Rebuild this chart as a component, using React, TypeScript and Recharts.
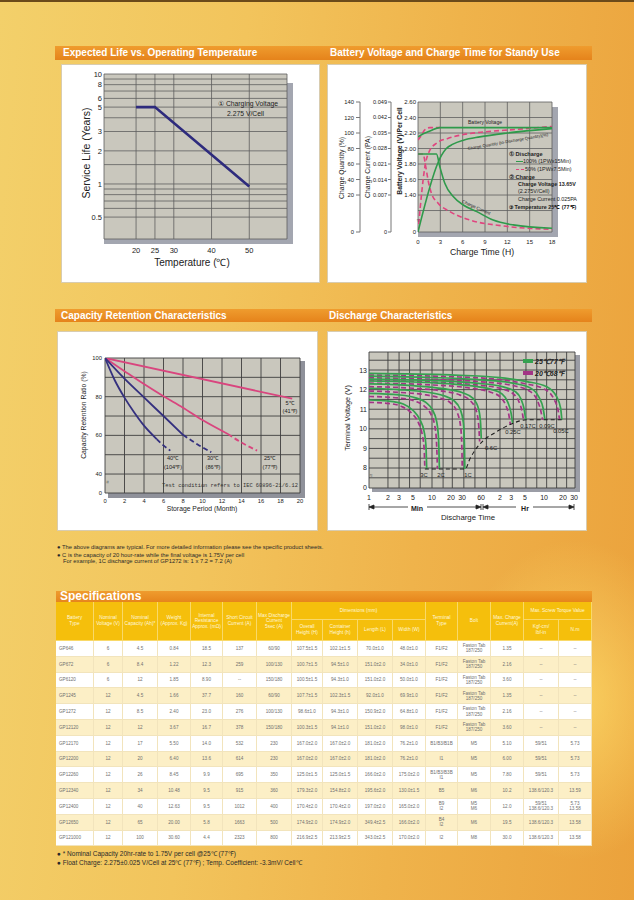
import React from 'react';
import { LineChart, Line, XAxis, YAxis, CartesianGrid } from 'recharts';

const FONT = '"Liberation Sans", Arial, Helvetica, sans-serif';

/* ---------- Expected Life vs. Operating Temperature ---------- */
const lifeTemperature = [20, 25, 50];
const lifeYears = [5, 5, 0.95];
const lifeXTicks = [20, 25, 30, 40, 50];
const lifeYTicks = [0.5, 1, 2, 3, 5, 6, 8, 10];
const lifeGridYears = [0.316, 0.5, 0.6, 0.7, 0.8, 0.9, 1, 1.5, 2, 3, 4, 5, 6, 7, 8, 9, 10];
const lifeGridTemps = [11.5, 20, 25, 30, 40, 50, 60];

/* ---------- Battery Voltage and Charge Time ---------- */
// axis break: the lowest tick of each axis stands for "0"
const chargeHourTicks = [0, 3, 6, 9, 12, 15, 18];
const voltageAxisTicks = [0.923, 1.4, 1.6, 1.8, 2.0, 2.2, 2.4, 2.6];
const currentAxisTicks = [-0.0097, 0.007, 0.014, 0.021, 0.028, 0.035, 0.042, 0.049];
const quantityAxisTicks = [-27.7, 20, 40, 60, 80, 100, 120, 140];
const voltageGrid = [0.923, 1.2, 1.4, 1.6, 1.8, 2.0, 2.2, 2.4, 2.6];
const voltageFull = [[0, 2.15], [0.7, 2.19], [1.7, 2.23], [2.9, 2.27], [18, 2.27]];
const voltageHalf = [[0, 2.11], [0.45, 2.17], [0.9, 2.24], [1.6, 2.27], [3, 2.27]];
const quantityFull = [[0, -27.7], [2.7, 62], [3.15, 71], [3.8, 80], [4.7, 85.6], [6.1, 90.7], [8.3, 95], [12, 100], [18, 105.7]];
const quantityHalf = [[0, -27.7], [1.05, 63], [1.5, 76], [2.5, 87], [4, 93], [6.1, 98], [9, 101.5], [13, 104.5], [18, 108.5]];
const currentFull = [[0, 0.0255], [2.48, 0.0255], [2.93, 0.0198], [3.6, 0.0123], [4.73, 0.0063], [6.08, 0.0025], [7.9, -0.0005], [10.1, -0.0043], [12.8, -0.0065], [18, -0.008]];
const currentHalf = [[0, 0.0255], [0.68, 0.0255], [1.04, 0.0198], [1.35, 0.0138], [1.8, 0.0078], [2.7, 0.0033], [4.28, -0.0005], [7, -0.0043], [11.5, -0.007], [18, -0.0085]];

/* ---------- Capacity Retention ---------- */
const monthTicks = [0, 2, 4, 6, 8, 10, 12, 14, 16, 18, 20];
const retentionTicks = [30.2, 40, 60, 80, 100];
const retentionGrid = [30.2, 40, 50, 60, 70, 80, 90, 100];
const retention5C = [[0, 100], [19.2, 79]];
const retention25C = [[0, 100], [2, 93.2], [4, 86.5], [6, 80.2], [8, 74.3], [10, 67.9], [12.6, 60.7]];
const retention25CDash = [[12.6, 60.7], [14, 56.3], [15.6, 52.1]];
const retention30C = [[0, 100], [2, 89.3], [4, 79.6], [6, 70], [8, 60.3]];
const retention30CDash = [[8, 60.3], [9.5, 55.3], [10.9, 51.3]];
const retention40C = [[0, 100], [1, 88.5], [2, 79.5], [3, 71.8], [4, 65], [5.3, 58.1]];
const retention40CDash = [[5.3, 58.1], [6, 54.8], [6.7, 52.1]];

/* ---------- Discharge Characteristics (x in minutes) ---------- */
const dischargeTimeTicks = [1, 2, 3, 5, 10, 20, 30, 60, 120, 180, 300, 600, 1200, 1800];
const dischargeGridTimes = [1, 2, 3, 4.4, 6.5, 10, 15, 21, 32, 48, 73, 120, 195, 310, 460, 660, 950, 1370, 1860];
const terminalVoltTicks = [6.98, 8, 9, 10, 11, 12, 13];
const terminalVoltGrid = [6.98, 7.5, 8, 8.5, 9, 9.5, 10, 10.5, 11, 11.5, 12, 12.5, 13, 13.5, 13.92];
const d3C25 = [[1, 11.47], [2, 11.42], [3.5, 11.27], [5.06, 10.92], [6.45, 10.46], [7.5, 9.86], [8.0, 9.19], [8.24, 7.95]];
const d3C20 = [[1, 11.35], [2, 11.3], [3.4, 11.12], [4.8, 10.78], [6.1, 10.3], [7.0, 9.7], [7.5, 9.0], [7.7, 7.95]];
const d2C25 = [[1, 11.81], [3, 11.73], [5.5, 11.58], [8, 11.35], [10, 11.0], [11.8, 10.4], [12.7, 9.5], [13.1, 7.95]];
const d2C20 = [[1, 11.65], [3, 11.57], [5.5, 11.4], [7.6, 11.15], [9.4, 10.8], [11, 10.2], [11.8, 9.3], [12.2, 7.95]];
const d1C25 = [[1, 12.07], [3, 12.0], [8, 11.88], [15, 11.7], [22, 11.45], [28, 11.0], [31.5, 10.3], [32.8, 9.0], [33.2, 7.95]];
const d1C20 = [[1, 11.93], [3, 11.86], [8, 11.73], [14, 11.55], [20, 11.3], [25, 10.85], [28.5, 10.1], [29.8, 9.0], [30.2, 7.95]];
const d06C25 = [[1, 12.29], [5, 12.2], [15, 12.05], [30, 11.85], [45, 11.55], [55, 11.0], [59, 10.3], [60.5, 9.5]];
const d06C20 = [[1, 12.15], [5, 12.07], [15, 11.92], [28, 11.72], [40, 11.45], [50, 10.95], [55, 10.2], [57, 9.35]];
const d025C25 = [[1, 12.44], [10, 12.35], [40, 12.2], [90, 12.0], [127, 11.8], [160, 11.35], [180, 10.8], [190, 10.3]];
const d025C20 = [[1, 12.33], [10, 12.24], [40, 12.08], [85, 11.87], [118, 11.65], [148, 11.2], [166, 10.7], [175, 10.22]];
const d017C25 = [[1, 12.54], [10, 12.47], [50, 12.33], [130, 12.15], [210, 11.9], [260, 11.5], [290, 11.0], [308, 10.46]];
const d017C20 = [[1, 12.46], [10, 12.39], [50, 12.24], [125, 12.05], [195, 11.78], [240, 11.38], [268, 10.9], [283, 10.46]];
const d009C25 = [[1, 12.69], [10, 12.62], [60, 12.5], [200, 12.32], [380, 12.05], [500, 11.6], [580, 11.05], [620, 10.46]];
const d009C20 = [[1, 12.6], [10, 12.53], [60, 12.4], [190, 12.21], [350, 11.93], [460, 11.5], [530, 10.95], [570, 10.46]];
const d005C25 = [[1, 12.83], [20, 12.75], [120, 12.61], [320, 12.41], [660, 12.15], [950, 11.64], [1100, 11.05], [1150, 10.46]];
const d005C20 = [[1, 12.74], [20, 12.66], [120, 12.51], [300, 12.3], [600, 12.03], [860, 11.52], [1000, 10.95], [1060, 10.46]];
const dischargeEndVoltage = [[7.7, 7.95], [33.5, 7.95], [40, 8.47], [48, 8.9], [65, 9.4], [94, 9.75], [127, 10.0], [195, 10.29], [318, 10.46], [1150, 10.46]];

/* ---------- Specifications table (one array per column) ---------- */
const batteryType = ['GP646', 'GP672', 'GP6120', 'GP1245', 'GP1272', 'GP12120', 'GP12170', 'GP12200', 'GP12260', 'GP12340', 'GP12400', 'GP12650', 'GP121000'];
const nominalVoltage = ['6', '6', '6', '12', '12', '12', '12', '12', '12', '12', '12', '12', '12'];
const nominalCapacity = ['4.5', '8.4', '12', '4.5', '8.5', '12', '17', '20', '26', '34', '40', '65', '100'];
const weightKg = ['0.84', '1.22', '1.85', '1.66', '2.40', '3.67', '5.50', '6.40', '8.45', '10.48', '12.63', '20.00', '30.60'];
const internalResistance = ['18.5', '12.3', '8.90', '37.7', '23.0', '16.7', '14.0', '13.6', '9.9', '9.5', '9.5', '5.8', '4.4'];
const shortCircuitCurrent = ['137', '259', '--', '160', '276', '378', '532', '614', '695', '915', '1012', '1663', '2323'];
const maxDischargeCurrent = ['60/90', '100/130', '150/180', '60/90', '100/130', '150/180', '230', '230', '350', '360', '400', '500', '800'];
const overallHeight = ['107.5±1.5', '100.7±1.5', '100.5±1.5', '107.7±1.5', '98.6±1.0', '100.3±1.5', '167.0±2.0', '167.0±2.0', '125.0±1.5', '179.3±2.0', '170.4±2.0', '174.9±2.0', '216.9±2.5'];
const containerHeight = ['102.1±1.5', '94.5±1.0', '94.3±1.0', '102.3±1.5', '94.3±1.0', '94.1±1.0', '167.0±2.0', '167.0±2.0', '125.0±1.5', '154.8±2.0', '170.4±2.0', '174.9±2.0', '213.9±2.5'];
const lengthL = ['70.0±1.0', '151.0±2.0', '151.0±2.0', '92.0±1.0', '150.9±2.0', '151.0±2.0', '181.0±2.0', '181.0±2.0', '166.0±2.0', '195.6±2.0', '197.0±2.0', '349.4±2.5', '343.0±2.5'];
const widthW = ['48.0±1.0', '34.0±1.0', '50.0±1.0', '69.9±1.0', '64.8±1.0', '98.0±1.0', '76.2±1.0', '76.2±1.0', '175.0±2.0', '130.0±1.5', '165.0±2.0', '166.0±2.0', '170.0±2.0'];
const terminalType = ['F1/F2', 'F1/F2', 'F1/F2', 'F1/F2', 'F1/F2', 'F1/F2', 'B1/B3/B1B', 'I1', 'B1/B3/B3B\nI1', 'B5', 'B9\nI2', 'B4\nI2', 'I2'];
const boltType = ['Faston Tab\n187/250', 'Faston Tab\n187/250', 'Faston Tab\n187/250', 'Faston Tab\n187/250', 'Faston Tab\n187/250', 'Faston Tab\n187/250', 'M5', 'M5', 'M5', 'M6', 'M5\nM6', 'M6', 'M8'];
const maxChargeCurrent = ['1.35', '2.16', '3.60', '1.35', '2.16', '3.60', '5.10', '6.00', '7.80', '10.2', '12.0', '19.5', '30.0'];
const torqueKgf = ['--', '--', '--', '--', '--', '--', '59/51', '59/51', '59/51', '138.6/120.3', '59/51\n138.6/120.3', '138.6/120.3', '138.6/120.3'];
const torqueNm = ['--', '--', '--', '--', '--', '--', '5.73', '5.73', '5.73', '13.59', '5.73\n13.58', '13.58', '13.58'];

const toPts = (arr: number[][]) => arr.map(([x, y]) => ({ x, y }));

type LP = { x: number; y: number; s: number; children: React.ReactNode; a?: 'l' | 'c' | 'r'; rot?: number; w?: number; c?: string; f?: string; it?: boolean };
function L({ x, y, s, children, a = 'l', rot = 0, w = 400, c = '#222', f = FONT, it = false }: LP) {
  const tx = a === 'l' ? '0' : a === 'c' ? '-50%' : '-100%';
  const origin = a === 'l' ? '0 50%' : a === 'c' ? '50% 50%' : '100% 50%';
  return (
    <div style={{ position: 'absolute', left: x, top: y, fontSize: s, fontWeight: w, color: c, fontFamily: f, fontStyle: it ? 'italic' : 'normal', whiteSpace: 'nowrap', lineHeight: 1, transform: `translate(${tx},-50%) rotate(${rot}deg)`, transformOrigin: origin }}>
      {children}
    </div>
  );
}

const Box = ({ x, y, w, h, bg, border }: { x: number; y: number; w: number; h: number; bg: string; border?: string }) => (
  <div style={{ position: 'absolute', left: x, top: y, width: w, height: h, background: bg, border, boxSizing: 'border-box' }} />
);

const Header = ({ y, h }: { y: number; h: number }) => (
  <div style={{ position: 'absolute', left: 55, top: y, width: 537, height: h, background: 'linear-gradient(180deg,#EF9C2E,#E5831B)' }} />
);

const tickStyle = (size: number) => ({ fontSize: size, fill: '#222', fontFamily: FONT });

function LifeChart() {
  const data = lifeTemperature.map((t, i) => ({ x: t, y: lifeYears[i] }));
  return (
    <div style={{ position: 'absolute', left: 61, top: 64, width: 259, height: 219 }}>
      <LineChart width={259} height={219} data={data} margin={{ top: 10, right: 33, bottom: 14, left: 0 }}>
        <CartesianGrid fill="#C9C7BD" fillOpacity={1} stroke="#5E5E5E" strokeWidth={0.8} horizontalValues={lifeGridYears} verticalValues={lifeGridTemps} />
        <XAxis dataKey="x" type="number" domain={[11.5, 60]} allowDataOverflow ticks={lifeXTicks} interval={0} axisLine={false} tickLine={false} tickSize={6} tickMargin={3} height={30} tick={tickStyle(7.5)} />
        <YAxis type="number" scale="log" domain={[0.316, 10]} allowDataOverflow ticks={lifeYTicks} interval={0} width={43} axisLine={false} tickLine={false} tickSize={1} tickMargin={1} tick={tickStyle(7.5)} />
        <Line dataKey="y" type="linear" stroke="#2E2B7D" strokeWidth={2.6} dot={false} isAnimationActive={false} />
      </LineChart>
    </div>
  );
}

function ChargeChart() {
  const fmtV = (v: number) => (v < 1 ? '0' : v.toFixed(2));
  const fmtC = (v: number) => (v < 0 ? '0' : v.toFixed(3));
  const fmtQ = (v: number) => (v < 0 ? '0' : String(v));
  // axis ids: a = battery voltage (next to plot), b = charge current, c = charge quantity (outermost)
  return (
    <div style={{ position: 'absolute', left: 327, top: 64, width: 258, height: 219 }}>
      <LineChart width={258} height={219} margin={{ top: 38, right: 33, bottom: 21, left: 0 }}>
        <CartesianGrid yAxisId="a" fill="#C9C7BD" fillOpacity={1} stroke="#5E5E5E" strokeWidth={0.8} horizontalValues={voltageGrid} verticalValues={chargeHourTicks} />
        <XAxis dataKey="x" type="number" domain={[0, 18]} allowDataOverflow ticks={chargeHourTicks} interval={0} axisLine={false} tickLine={false} tickSize={4} tickMargin={3.5} height={30} tick={tickStyle(6)} />
        <YAxis yAxisId="a" type="number" domain={[0.923, 2.6]} allowDataOverflow ticks={voltageAxisTicks} interval={0} width={27} axisLine={false} tickLine={false} tickSize={0} tickMargin={2} tickFormatter={fmtV} tick={tickStyle(6)} />
        <YAxis yAxisId="b" type="number" domain={[-0.0097, 0.049]} allowDataOverflow ticks={currentAxisTicks} interval={0} width={31} axisLine={{ stroke: '#777' }} tickLine={{ stroke: '#777' }} tickSize={3} tickMargin={1} tickFormatter={fmtC} tick={tickStyle(5.6)} />
        <YAxis yAxisId="c" type="number" domain={[-27.7, 140]} allowDataOverflow ticks={quantityAxisTicks} interval={0} width={33} axisLine={{ stroke: '#777' }} tickLine={{ stroke: '#777' }} tickSize={4} tickMargin={2} tickFormatter={fmtQ} tick={tickStyle(5.8)} />
        <Line yAxisId="b" data={toPts(currentHalf)} dataKey="y" type="monotone" stroke="#E0457F" strokeWidth={1.6} strokeDasharray="5 3" dot={false} isAnimationActive={false} />
        <Line yAxisId="c" data={toPts(quantityHalf)} dataKey="y" type="monotone" stroke="#E0457F" strokeWidth={1.6} strokeDasharray="5 3" dot={false} isAnimationActive={false} />
        <Line yAxisId="a" data={toPts(voltageHalf)} dataKey="y" type="monotone" stroke="#E0457F" strokeWidth={1.6} strokeDasharray="5 3" dot={false} isAnimationActive={false} />
        <Line yAxisId="b" data={toPts(currentFull)} dataKey="y" type="monotone" stroke="#2E9A4B" strokeWidth={1.6} dot={false} isAnimationActive={false} />
        <Line yAxisId="c" data={toPts(quantityFull)} dataKey="y" type="monotone" stroke="#2E9A4B" strokeWidth={1.6} dot={false} isAnimationActive={false} />
        <Line yAxisId="a" data={toPts(voltageFull)} dataKey="y" type="monotone" stroke="#2E9A4B" strokeWidth={1.6} dot={false} isAnimationActive={false} />
      </LineChart>
    </div>
  );
}

function RetentionChart() {
  const fmt = (v: number) => (v < 35 ? '0' : String(v));
  const pink = '#D9457E';
  const navy = '#34307F';
  const lines: [number[][], string, boolean][] = [
    [retention5C, pink, false], [retention25C, pink, false], [retention25CDash, pink, true],
    [retention30C, navy, false], [retention30CDash, navy, true], [retention40C, navy, false], [retention40CDash, navy, true],
  ];
  return (
    <div style={{ position: 'absolute', left: 57, top: 331, width: 261, height: 200 }}>
      <LineChart width={261} height={200} margin={{ top: 27, right: 18, bottom: 18, left: 0 }}>
        <CartesianGrid fill="#C9C7BD" fillOpacity={1} stroke="#3E3E3E" strokeWidth={0.9} horizontalValues={retentionGrid} verticalValues={monthTicks} />
        <XAxis dataKey="x" type="number" domain={[0, 20]} allowDataOverflow ticks={monthTicks} interval={0} axisLine={false} tickLine={false} tickSize={3} tickMargin={3} height={20} tick={tickStyle(5.8)} />
        <YAxis type="number" domain={[30.2, 100]} allowDataOverflow ticks={retentionTicks} interval={0} width={48} axisLine={false} tickLine={false} tickSize={2} tickMargin={1} tickFormatter={fmt} tick={tickStyle(5.8)} />
        {lines.map(([d, col, dash], i) => (
          <Line key={i} data={toPts(d)} dataKey="y" type="monotone" stroke={col} strokeWidth={1.8} strokeDasharray={dash ? '5 3' : undefined} dot={false} isAnimationActive={false} />
        ))}
      </LineChart>
    </div>
  );
}

function DischargeChart() {
  const fmtY = (v: number) => (v < 7.5 ? '0' : String(v));
  const fmtX = (m: number) => (m >= 120 ? String(m / 60) : String(m));
  const green = '#35A150';
  const mag = '#A33486';
  const pairs: [number[][], number[][]][] = [
    [d3C25, d3C20], [d2C25, d2C20], [d1C25, d1C20], [d06C25, d06C20],
    [d025C25, d025C20], [d017C25, d017C20], [d009C25, d009C20], [d005C25, d005C20],
  ];
  return (
    <div style={{ position: 'absolute', left: 327, top: 331, width: 258, height: 200 }}>
      <LineChart width={258} height={200} margin={{ top: 21, right: 10, bottom: 23, left: 0 }}>
        <CartesianGrid fill="#C9C7BD" fillOpacity={1} stroke="#3E3E3E" strokeWidth={0.9} horizontalValues={terminalVoltGrid} verticalValues={dischargeGridTimes} />
        <XAxis dataKey="x" type="number" scale="log" domain={[1, 1860]} allowDataOverflow ticks={dischargeTimeTicks} interval={0} axisLine={false} tickLine={false} tickSize={4} tickMargin={3} height={20} tickFormatter={fmtX} tick={tickStyle(7)} />
        <YAxis type="number" domain={[6.98, 13.92]} allowDataOverflow ticks={terminalVoltTicks} interval={0} width={42} axisLine={false} tickLine={false} tickSize={1} tickMargin={1} tickFormatter={fmtY} tick={tickStyle(7)} />
        {pairs.map(([g, m], i) => (
          <Line key={'m' + i} data={toPts(m)} dataKey="y" type="monotone" stroke={mag} strokeWidth={1.7} strokeDasharray="5 3" dot={false} isAnimationActive={false} />
        ))}
        {pairs.map(([g, m], i) => (
          <Line key={'g' + i} data={toPts(g)} dataKey="y" type="monotone" stroke={green} strokeWidth={1.7} dot={false} isAnimationActive={false} />
        ))}
        <Line data={toPts(dischargeEndVoltage)} dataKey="y" type="monotone" stroke="#1E1E1E" strokeWidth={1.1} strokeDasharray="4 3" dot={false} isAnimationActive={false} />
      </LineChart>
    </div>
  );
}

const specColumns = [batteryType, nominalVoltage, nominalCapacity, weightKg, internalResistance, shortCircuitCurrent, maxDischargeCurrent, overallHeight, containerHeight, lengthL, widthW, terminalType, boltType, maxChargeCurrent, torqueKgf, torqueNm];
const specHeaderLabels = ['Battery\nType', 'Nominal\nVoltage (V)', 'Nominal\nCapacity (Ah)*', 'Weight\n(Approx. Kg)', 'Internal\nResistance\nApprox. (mΩ)', 'Short Circuit\nCurrent (A)', 'Max Discharge\nCurrent\n5sec (A)', 'Overall\nHeight (H)', 'Container\nHeight (h)', 'Length (L)', 'Width (W)', 'Terminal\nType', 'Bolt', 'Max. Charge\nCurrent(A)', 'Kgf-cm/\nlbf-in', 'N.m'];

function SpecTable() {
  const widths = [38, 29, 35, 33, 32, 34, 35, 31, 35, 35, 33, 32, 33, 33, 35, 33];
  const xs: number[] = [];
  let acc = 56;
  widths.forEach((w) => { xs.push(acc); acc += w; });
  const top = 602, split = 620, hdrBottom = 641, rowH = 15.8;
  const cellBase: React.CSSProperties = { position: 'absolute', display: 'flex', alignItems: 'center', justifyContent: 'center', textAlign: 'center', whiteSpace: 'pre-line', boxSizing: 'border-box', fontFamily: FONT, lineHeight: 1.15 };
  const hdr = (x: number, y: number, w: number, h: number, text: string, key: string) => (
    <div key={key} style={{ ...cellBase, left: x, top: y, width: w, height: h, background: '#F5BF0C', color: '#FFF7DC', fontSize: 4.8, borderRight: '1px solid #F9D969', borderBottom: '1px solid #F9D969' }}>{text}</div>
  );
  const cells: React.ReactNode[] = [];
  specHeaderLabels.forEach((lab, ci) => {
    const sub = (ci >= 7 && ci <= 10) || ci >= 14;
    if (sub) cells.push(hdr(xs[ci], split, widths[ci], hdrBottom - split, lab, 'h' + ci));
    else cells.push(hdr(xs[ci], top, widths[ci], hdrBottom - top, lab, 'h' + ci));
  });
  cells.push(hdr(xs[7], top, widths[7] + widths[8] + widths[9] + widths[10], split - top, 'Dimensions (mm)', 'dim'));
  cells.push(hdr(xs[14], top, widths[14] + widths[15], split - top, 'Max. Screw Torque Value', 'tq'));
  batteryType.forEach((_, ri) => {
    specColumns.forEach((col, ci) => {
      cells.push(
        <div key={`c${ri}_${ci}`} style={{ ...cellBase, left: xs[ci], top: hdrBottom + ri * rowH, width: widths[ci], height: rowH, background: ri % 2 === 0 ? '#FFFFFF' : '#FCEFC6', color: '#707070', fontSize: 4.6, borderRight: '1px solid #F2E4BC', borderBottom: '1px solid #F2E4BC', justifyContent: ci === 0 ? 'flex-start' : 'center', paddingLeft: ci === 0 ? 3 : 0 }}>{col[ri]}</div>
      );
    });
  });
  return <>{cells}</>;
}

export default function App() {
  return (
    <div style={{ position: 'absolute', left: 0, top: 0, width: 634, height: 900, overflow: 'hidden', fontFamily: FONT, background: 'linear-gradient(95deg,#F3D06A 0%,#F2C45C 35%,#EFB34B 65%,#EBA23C 100%)' }}>
      <div style={{ position: 'absolute', left: 0, top: 0, width: 634, height: 900, background: 'radial-gradient(ellipse 120px 160px at 575px 700px, rgba(255,226,110,0.7), rgba(255,226,110,0))' }} />
      <div style={{ position: 'absolute', left: 0, top: 0, width: 634, height: 2, background: '#6B4A1A' }} />

      {/* section headers */}
      <Header y={46} h={14} />
      <L x={63} y={53} s={10} w={700} c="#FFFFFF">Expected Life vs. Operating Temperature</L>
      <L x={330} y={53} s={10} w={700} c="#FFFFFF">Battery Voltage and Charge Time for Standy Use</L>
      <Header y={309} h={13} />
      <L x={61} y={315.5} s={10} w={700} c="#FFFFFF">Capacity Retention Characteristics</L>
      <L x={329} y={315.5} s={10} w={700} c="#FFFFFF">Discharge Characteristics</L>

      {/* panels */}
      <Box x={61} y={64} w={259} h={219} bg="#FFFFFF" border="1px solid #D8CCB0" />
      <Box x={327} y={64} w={260} h={219} bg="#FFFFFF" border="1px solid #D8CCB0" />
      <Box x={57} y={331} w={261} h={200} bg="#FFFFFF" border="1px solid #D8CCB0" />
      <Box x={327} y={331} w={260} h={200} bg="#FFFFFF" border="1px solid #D8CCB0" />

      {/* plot shadows */}
      <Box x={104} y={83} w={189} h={161} bg="#A3A6B0" />
      <Box x={418} y={107} w={140} h={130} bg="#A3A6B0" />
      <Box x={108} y={361} w={197} h={137} bg="#8F919A" />
      <Box x={372} y={355} w={208} h={137} bg="#9B9DA6" />

      <LifeChart />
      <ChargeChart />
      <RetentionChart />
      <DischargeChart />

      {/* chart 1 text */}
      <L x={86} y={153} s={10.5} a="c" rot={-90} c="#222">Service Life (Years)</L>
      <L x={192} y={263} s={10} a="c" c="#222">Temperature (℃)</L>
      <L x={218} y={104} s={6.8} c="#222">① Charging Voltage</L>
      <L x={227} y={114} s={6.8} c="#222">2.275 V/Cell</L>

      {/* chart 2 text */}
      <L x={342} y={168} s={6.8} a="c" rot={-90}>Charge Quantity (%)</L>
      <L x={367.5} y={167} s={6.8} a="c" rot={-90}>Charge Current (PA)</L>
      <L x={400} y={151} s={6.8} a="c" rot={-90} w={700}>Battery Voltage (V)/Per Cell</L>
      <L x={482} y={252} s={8.7} a="c">Charge Time (H)</L>
      <L x={485} y={122} s={5} a="c">Battery Voltage</L>
      <L x={508} y={142} s={4.2} a="c" rot={-10}>Charge Quantity (to-Discharge Quantity)(%)</L>
      <L x={476} y={208} s={4.4} a="c" rot={24}>Charge Current</L>
      <L x={418} y={220} s={5} a="c" c="#333">≈</L>
      <L x={509} y={155} s={5.6} w={700}>① Discharge</L>
      <div style={{ position: 'absolute', left: 516, top: 161, width: 7, height: 0, borderTop: '1.5px solid #2E9A4B' }} />
      <L x={523} y={162} s={5.4}>100% (1PWx15Min)</L>
      <div style={{ position: 'absolute', left: 516, top: 169, width: 8, height: 0, borderTop: '1.5px dashed #E0457F' }} />
      <L x={525} y={170} s={5.4}>50% (1PWx7.5Min)</L>
      <L x={509} y={177.5} s={5.6} w={700}>② Charge</L>
      <L x={518} y={185} s={5.4} w={700}>Charge Voltage 13.65V</L>
      <L x={518} y={192} s={5.4}>(2.275V/Cell)</L>
      <L x={518} y={200} s={5.4}>Charge Current 0.025PA</L>
      <L x={509} y={208} s={5.4} w={700}>③ Temperature 25℃ (77℉)</L>

      {/* chart 3 text */}
      <L x={84} y={415} s={6.8} a="c" rot={-90}>Capacity Retention Ratio (%)</L>
      <L x={202} y={509} s={6.8} a="c">Storage Period (Month)</L>
      <L x={290} y={404} s={5.6} a="c">5℃</L>
      <L x={290} y={412} s={5.6} a="c">(41℉)</L>
      <L x={173} y={459} s={5.6} a="c">40℃</L>
      <L x={173} y={467.5} s={5.6} a="c">(104℉)</L>
      <L x={213} y={459} s={5.6} a="c">30℃</L>
      <L x={213} y={467.5} s={5.6} a="c">(86℉)</L>
      <L x={270} y={459} s={5.6} a="c">25℃</L>
      <L x={270} y={467.5} s={5.6} a="c">(77℉)</L>
      <L x={230} y={487} s={5.4} a="c" f='"Liberation Mono", "DejaVu Sans Mono", monospace' c="#333">Test condition refers to IEC 60896-21/6.12</L>
      <L x={107} y={482} s={5} a="c" rot={90} c="#333">≈</L>

      {/* chart 4 text */}
      <L x={348} y={418} s={7.3} a="c" rot={-90}>Terminal Voltage (V)</L>
      <L x={468} y={518} s={7.8} a="c">Discharge Time</L>
      <div style={{ position: 'absolute', left: 523, top: 359, width: 10, height: 4, background: '#35A150' }} />
      <L x={535} y={361} s={7} w={700} it>25℃77℉</L>
      <div style={{ position: 'absolute', left: 523, top: 371, width: 10, height: 4, background: '#A33486' }} />
      <L x={535} y={373} s={7} w={700} it>20℃68℉</L>
      <L x={424} y={476} s={5.8} a="c">3C</L>
      <L x={441} y={476} s={5.8} a="c">2C</L>
      <L x={468} y={476} s={5.8} a="c">1C</L>
      <L x={491} y={449} s={5.8} a="c">0.6C</L>
      <L x={513} y={433} s={5.8} a="c">0.25C</L>
      <L x={528} y={427} s={5.8} a="c">0.17C</L>
      <L x={547} y={427} s={5.8} a="c">0.09C</L>
      <L x={561} y={432} s={5.8} a="c">0.05C</L>
      <L x={371} y={475} s={5} a="c" c="#333">≈</L>
      <svg style={{ position: 'absolute', left: 366, top: 503 }} width={214} height={9}>
        <g stroke="#222" strokeWidth={0.8} fill="#222">
          <line x1={3} y1={1} x2={3} y2={7} />
          <polygon points="3,4 8,2 8,6" />
          <line x1={8} y1={4} x2={42} y2={4} />
          <line x1={61} y1={4} x2={110} y2={4} />
          <polygon points="115,4 110,2 110,6" />
          <line x1={115} y1={1} x2={115} y2={7} />
          <line x1={117} y1={1} x2={117} y2={7} />
          <polygon points="117,4 122,2 122,6" />
          <line x1={122} y1={4} x2={150} y2={4} />
          <line x1={167} y1={4} x2={203} y2={4} />
          <polygon points="208,4 203,2 203,6" />
          <line x1={208} y1={1} x2={208} y2={7} />
        </g>
      </svg>
      <L x={417} y={507.5} s={7} a="c" w={700}>Min</L>
      <L x={525} y={507.5} s={7} a="c" w={700}>Hr</L>

      {/* notes */}
      <L x={57} y={548} s={5.8} c="#2A2A2A">● The above diagrams are typical. For more detailed information please see the specific product sheets.</L>
      <L x={57} y={555.5} s={5.8} c="#2A2A2A">● C is the capacity of 20 hour-rate while the final voltage is 1.75V per cell</L>
      <L x={63} y={562} s={5.8} c="#2A2A2A">For example, 1C discharge current of GP1272 is: 1 x 7.2 = 7.2 (A)</L>

      {/* specifications */}
      <div style={{ position: 'absolute', left: 56, top: 591, width: 536, height: 12, background: 'linear-gradient(180deg,#EF9C2E,#E5831B)' }} />
      <L x={60} y={596} s={12} w={700} c="#FFFFFF">Specifications</L>
      <SpecTable />

      <L x={57} y={854} s={6.5} c="#2A2A2A">● * Nominal Capacity 20hr-rate to 1.75V per cell @25℃ (77℉)</L>
      <L x={57} y={863} s={6.5} c="#2A2A2A">● Float Charge: 2.275±0.025 V/Cell at 25℃ (77℉) ; Temp. Coefficient: -3.3mV/ Cell℃</L>
    </div>
  );
}
